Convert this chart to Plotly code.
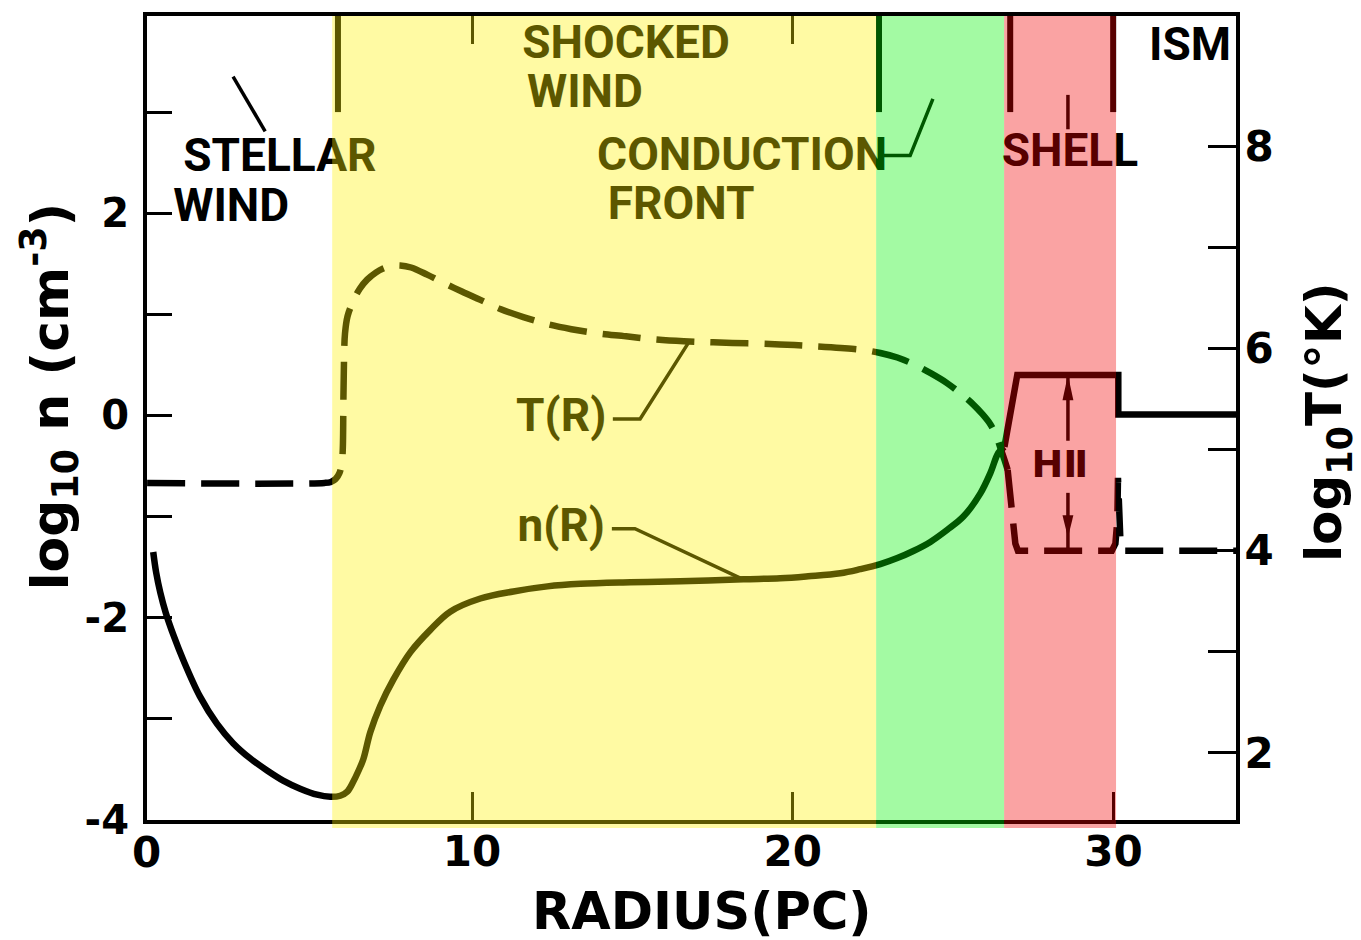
import plotly.graph_objects as go

# ---- radial structure of a stellar-wind bubble ----
# density profile: radius (pc) and log10 n (cm^-3)
n_radius = [0.06, 0.15, 0.28, 0.45, 0.70, 1.00, 1.52, 2.05, 2.55, 3.08, 3.61, 4.11, 4.64,
            5.17, 5.58, 5.89, 6.11, 6.30, 6.45, 6.61, 6.83, 7.14, 7.55, 8.08, 8.70, 9.32,
            10.26, 11.29, 12.35, 13.38, 14.94, 16.49, 18.46, 19.61, 20.48, 21.48, 22.10,
            22.73, 23.26, 23.76, 24.29, 24.82, 25.32, 25.85, 26.16, 26.41, 26.60, 27.00,
            30.15, 30.15, 33.82]
log_n = [-1.35, -1.55, -1.75, -1.95, -2.18, -2.42, -2.78, -3.05, -3.24, -3.39, -3.51, -3.61, -3.69,
         -3.75, -3.77, -3.76, -3.72, -3.62, -3.52, -3.40, -3.13, -2.87, -2.61, -2.34, -2.12, -1.94,
         -1.81, -1.74, -1.69, -1.665, -1.65, -1.64, -1.62, -1.61, -1.59, -1.56, -1.52,
         -1.47, -1.41, -1.34, -1.25, -1.13, -1.00, -0.77, -0.57, -0.37, -0.31, 0.40,
         0.40, 0.01, 0.01]
N_SMOOTH_END = 47          # points up to the shell edge are drawn as a smooth curve

# temperature profile: radius (pc) and log10 T (K)
t_radius = [-0.13, 5.40, 5.60, 5.75, 5.87, 5.94, 5.97, 5.99, 6.01, 6.04, 6.12, 6.30, 6.50,
            6.73, 7.00, 7.23, 7.50, 7.76, 8.10, 8.60, 9.10, 9.70, 10.26, 10.88, 11.60, 12.35,
            13.10, 13.90, 14.80, 15.65, 16.60, 17.52, 18.60, 19.60, 20.50, 21.50, 22.20,
            22.73, 23.26, 23.76, 24.30, 24.82, 25.25, 25.63, 25.90, 26.16, 26.35, 26.47,
            26.60, 26.70, 26.94, 27.02, 29.95, 30.06, 30.12, 30.14, 30.16, 30.22, 30.35, 33.82]
log_t = [4.67, 4.67, 4.68, 4.71, 4.77, 4.87, 5.00, 5.50, 5.90, 6.15, 6.32, 6.47, 6.59,
         6.68, 6.75, 6.79, 6.815, 6.82, 6.80, 6.73, 6.65, 6.56, 6.48, 6.39, 6.31, 6.24,
         6.19, 6.15, 6.12, 6.09, 6.07, 6.06, 6.05, 6.04, 6.025, 6.005, 5.985,
         5.955, 5.91, 5.845, 5.755, 5.655, 5.55, 5.445, 5.355, 5.25, 5.13, 5.02,
         4.90, 4.80, 4.07, 4.00, 4.00, 4.07, 4.30, 4.72, 4.30, 4.07, 4.00, 4.00]
T_SMOOTH_END = 50

# zones: shocked wind, conduction front, shell
zone_edges = [5.64, 22.60, 26.59, 30.08]
zone_colors = ["rgba(255,240,0,0.36)", "rgba(0,240,0,0.36)", "rgba(240,0,0,0.36)"]
# radii of the fronts (strokes hanging from the top border)
front_radii = [5.82, 22.69, 26.78, 29.99]

# ionised shell (H II) marker
hii_radius = 28.58
shell_log_n = 0.40
shell_log_t = 4.00

x_ticks = [10, 20, 30]
n_ticks = [-4, -2, 0, 2]
n_tick_text = ["-4", "-2", "0", "2"]
n_minor = [-3, -1, 1, 3]
t_ticks = [2, 4, 6, 8]
t_minor = [3, 5, 7]

X_RANGE = [-0.134, 33.82]
N_RANGE = [-4.0, 3.95]
T_RANGE = [1.337, 9.287]

LABEL_FONT = dict(family="Roboto", size=46, color="black", weight="bold")
TICK_FONT = dict(family="DejaVu Sans", size=40, color="black", weight="bold")

fig = go.Figure()

# density (solid): smooth part, then the sharp-edged shell and ISM
n_line = dict(color="black", width=6.5)
fig.add_trace(go.Scatter(x=n_radius[:N_SMOOTH_END], y=log_n[:N_SMOOTH_END], mode="lines",
                         line=dict(n_line, shape="spline", smoothing=1.0)))
fig.add_trace(go.Scatter(x=n_radius[N_SMOOTH_END - 1:], y=log_n[N_SMOOTH_END - 1:],
                         mode="lines", line=n_line))

# temperature (dashed)
t_line = dict(color="black", width=6.5, dash="38px,16px")
fig.add_trace(go.Scatter(x=t_radius[:T_SMOOTH_END], y=log_t[:T_SMOOTH_END], mode="lines",
                         line=dict(t_line, shape="spline", smoothing=1.0), yaxis="y2"))
fig.add_trace(go.Scatter(x=t_radius[T_SMOOTH_END - 1:], y=log_t[T_SMOOTH_END - 1:],
                         mode="lines", line=t_line, yaxis="y2"))

# front strokes from the top border
fx, fy = [], []
for r in front_radii:
    fx += [r, r, None]
    fy += [N_RANGE[1], 3.0, None]
fig.add_trace(go.Scatter(x=fx, y=fy, mode="lines", line=dict(color="black", width=6)))

# leader lines for the labels
leaders = [
    [(2.55, 3.35), (3.55, 2.81)],
    [(14.39, -0.035), (15.24, -0.035), (16.80, 0.745)],
    [(14.36, -1.12), (15.08, -1.12), (18.45, -1.62)],
    [(22.84, 2.57), (23.66, 2.57), (24.37, 3.13)],
    [(28.58, 3.17), (28.58, 2.83)],
]
lx, ly = [], []
for path in leaders:
    for px, py in path:
        lx.append(px)
        ly.append(py)
    lx.append(None)
    ly.append(None)
fig.add_trace(go.Scatter(x=lx, y=ly, mode="lines", line=dict(color="black", width=3.5)))

# text labels inside the plot
labels = [
    ("STELLAR", 4.01, 2.53), ("WIND", 2.49, 2.04),
    ("SHOCKED", 14.80, 3.645), ("WIND", 13.52, 3.16),
    ("CONDUCTION", 18.42, 2.54), ("FRONT", 16.52, 2.06),
    ("SHELL", 28.64, 2.58), ("ISM", 32.39, 3.625),
    ("T(R)", 12.78, -0.044), ("n(R)", 12.78, -1.13),
]
fig.add_trace(go.Scatter(x=[l[1] for l in labels], y=[l[2] for l in labels],
                         mode="text", text=[l[0] for l in labels],
                         textposition="middle center", textfont=LABEL_FONT))
fig.add_trace(go.Scatter(x=[28.33], y=[-0.51], mode="text", text=["H\u2161"],
                         textposition="middle center",
                         textfont=dict(family="DejaVu Sans", size=38,
                                       color="black", weight="bold")))

# H II double arrow spanning the shell (density top to temperature floor)
fig.add_trace(go.Scatter(x=[hii_radius, hii_radius], y=[shell_log_n, -0.25], mode="lines",
                         line=dict(color="black", width=3.5)))
fig.add_trace(go.Scatter(x=[hii_radius, hii_radius], y=[shell_log_t, 4.572], mode="lines",
                         line=dict(color="black", width=3.5), yaxis="y2"))
fig.add_trace(go.Scatter(x=[hii_radius - 0.17, hii_radius + 0.17, hii_radius, hii_radius - 0.17],
                         y=[shell_log_n - 0.25, shell_log_n - 0.25, shell_log_n, shell_log_n - 0.25],
                         mode="lines", fill="toself", fillcolor="black", line=dict(width=0)))
fig.add_trace(go.Scatter(x=[hii_radius - 0.17, hii_radius + 0.17, hii_radius, hii_radius - 0.17],
                         y=[shell_log_t + 0.35, shell_log_t + 0.35, shell_log_t + 0.13, shell_log_t + 0.35],
                         mode="lines", fill="toself", fillcolor="black", line=dict(width=0),
                         yaxis="y2"))

# translucent zone colours laid over everything in the plot area
for x0, x1, c in zip(zone_edges[:-1], zone_edges[1:], zone_colors):
    fig.add_shape(type="rect", xref="x", yref="paper", x0=x0, x1=x1, y0=-0.0099, y1=1.0,
                  fillcolor=c, line=dict(width=0), layer="above")

axis_common = dict(showline=True, linewidth=4, linecolor="black", showgrid=False,
                   zeroline=False, ticks="inside", tickcolor="black", tickwidth=3)

fig.update_layout(
    width=1361, height=940,
    margin=dict(l=147, r=125, t=14, b=120),
    paper_bgcolor="white", plot_bgcolor="white",
    showlegend=False,
    xaxis=dict(range=X_RANGE, tickvals=x_ticks, ticklen=28, mirror="ticks",
               tickfont=dict(TICK_FONT, size=42), ticklabelstandoff=-8, **axis_common),
    yaxis=dict(range=N_RANGE, tickvals=n_ticks, ticktext=n_tick_text, ticklen=25,
               mirror=False, tickfont=TICK_FONT, ticklabelstandoff=6,
               minor=dict(tickvals=n_minor, ticks="inside", ticklen=25, tickwidth=3,
                          tickcolor="black"),
               **axis_common),
    yaxis2=dict(range=T_RANGE, overlaying="y", side="right", anchor="x",
                tickvals=t_ticks, ticklen=28, tickfont=dict(TICK_FONT, size=42),
                ticklabelstandoff=-4,
                minor=dict(tickvals=t_minor, ticks="inside", ticklen=28, tickwidth=3,
                           tickcolor="black"),
                **axis_common),
)

fig.add_annotation(x=0, xref="x", y=0, yref="paper", yanchor="top", yshift=-6, xshift=-5,
                   text="0", showarrow=False, font=dict(TICK_FONT, size=42))
fig.add_annotation(x=0.5096, y=-0.1140, xref="paper", yref="paper", xanchor="center",
                   yanchor="middle", text="RADIUS(PC)", showarrow=False,
                   font=dict(family="DejaVu Sans", size=51, color="black", weight="bold"))
fig.add_annotation(x=-0.0891, y=0.527, xref="paper", yref="paper", xanchor="center",
                   yanchor="middle", textangle=-90, showarrow=False,
                   text="log<sub>10</sub>\u00a0n\u00a0(cm<sup>-3</sup>)",
                   font=dict(family="DejaVu Sans", size=52, color="black", weight="bold"))
fig.add_annotation(x=1.0836, y=0.495, xref="paper", yref="paper", xanchor="center",
                   yanchor="middle", textangle=-90, showarrow=False,
                   text="log<sub>10</sub>T(°K)",
                   font=dict(family="DejaVu Sans", size=50, color="black", weight="bold"))

fig.write_html("out.html")
